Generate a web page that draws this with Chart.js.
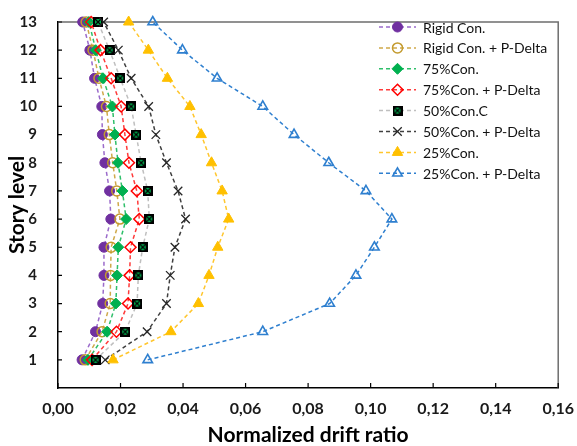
<!DOCTYPE html>
<html><head><meta charset="utf-8">
<script src="https://cdn.jsdelivr.net/npm/chart.js@4/dist/chart.umd.min.js"></script>
<style>html,body{margin:0;padding:0;background:#fff}#wrap{width:577px;height:446px;position:relative}</style>
</head><body><div id="wrap"><canvas id="c" width="577" height="446"></canvas></div>
<script>
// ---- data (story 1 .. 13) ----
const stories = [1,2,3,4,5,6,7,8,9,10,11,12,13];
const seriesNames = ['Rigid Con.','Rigid Con. + P-Delta','75%Con.','75%Con. + P-Delta','50%Con.C','50%Con. + P-Delta','25%Con.','25%Con. + P-Delta'];
const rigidCon      = [0.0077,0.0120,0.0143,0.0147,0.0147,0.0169,0.0165,0.0150,0.0142,0.0140,0.0117,0.0102,0.0079];
const rigidConPD    = [0.0087,0.0141,0.0167,0.0168,0.0170,0.0198,0.0188,0.0175,0.0164,0.0155,0.0131,0.0112,0.0090];
const con75         = [0.0096,0.0157,0.0185,0.0189,0.0193,0.0218,0.0206,0.0192,0.0182,0.0174,0.0144,0.0121,0.0099];
const con75PD       = [0.0109,0.0187,0.0224,0.0229,0.0232,0.0260,0.0252,0.0227,0.0214,0.0202,0.0170,0.0136,0.0106];
const con50C        = [0.0120,0.0215,0.0253,0.0257,0.0271,0.0292,0.0287,0.0266,0.0250,0.0234,0.0199,0.0165,0.0128];
const con50PD       = [0.0151,0.0285,0.0347,0.0359,0.0374,0.0408,0.0384,0.0347,0.0313,0.0290,0.0234,0.0193,0.0146];
const con25         = [0.0176,0.0361,0.0449,0.0483,0.0511,0.0546,0.0525,0.0491,0.0458,0.0422,0.0350,0.0289,0.0226];
const con25PD       = [0.0287,0.0655,0.0869,0.0953,0.1012,0.1068,0.0985,0.0866,0.0755,0.0655,0.0509,0.0398,0.0303];
const xTickLabels = ['0,00','0,02','0,04','0,06','0,08','0,10','0,12','0,14','0,16'];
const storyLabels = ['','1','2','3','4','5','6','7','8','9','10','11','12','13'];

// custom marker for 50%Con.C
function boxMarker(){
  const c=document.createElement('canvas'); c.width=10; c.height=10;
  const g=c.getContext('2d');
  g.fillStyle='#000'; g.fillRect(0,0,10,10);
  g.fillStyle='#00B050'; g.fillRect(2,2,6,6);
  g.strokeStyle='#000'; g.lineWidth=1.3;
  g.beginPath(); g.moveTo(2,2); g.lineTo(8,8); g.moveTo(8,2); g.lineTo(2,8); g.stroke();
  return c;
}
const styles = [
  {line:'#9B6BCB', pc:'#7030A0', bg:'#7030A0', ps:'circle', r:5, bw:1},
  {line:'#CFA94A', pc:'#C39A2E', bg:'rgba(0,0,0,0)', ps:'circle', r:5, bw:1.5},
  {line:'#2FBF6A', pc:'#00B050', bg:'#00B050', ps:'rectRot', r:5.5, bw:1},
  {line:'#FF3B3B', pc:'#FF0000', bg:'rgba(0,0,0,0)', ps:'rectRot', r:5.5, bw:1.5},
  {line:'#BFBFBF', pc:'#000', bg:'#000', ps:boxMarker(), r:5, bw:1},
  {line:'#404040', pc:'#262626', bg:'#262626', ps:'crossRot', r:6, bw:1.3},
  {line:'#FFC62E', pc:'#FFC000', bg:'#FFC000', ps:'triangle', r:6, bw:1},
  {line:'#2E7FCF', pc:'#2E7FCF', bg:'rgba(0,0,0,0)', ps:'triangle', r:5.5, bw:1.6}
];
const allSeries=[rigidCon,rigidConPD,con75,con75PD,con50C,con50PD,con25,con25PD];
const datasets = allSeries.map((vals,i)=>({
  label: seriesNames[i],
  data: vals.map((v,k)=>({x:v,y:stories[k]})),
  showLine:true, borderColor:styles[i].line, borderWidth:1.5, borderDash:[4,3],
  pointStyle:styles[i].ps, pointRadius:styles[i].r, pointBorderColor:styles[i].pc,
  pointBackgroundColor:styles[i].bg, pointBorderWidth:styles[i].bw,
  clip:false, order: 8-i, fill:false, tension:0
}));

const framePlugin = {
  id:'frame',
  beforeDatasetsDraw(chart){
    const {ctx, chartArea:a, scales} = chart;
    ctx.save();
    ctx.strokeStyle='#6e6e6e'; ctx.lineWidth=1.5;
    ctx.beginPath(); ctx.moveTo(a.left,a.top); ctx.lineTo(a.right,a.top); ctx.lineTo(a.right,a.bottom); ctx.stroke();
    ctx.strokeStyle='#000'; ctx.lineWidth=1.2;
    ctx.beginPath();
    scales.y.ticks.forEach(t=>{ if(t.value>0){const y=scales.y.getPixelForValue(t.value); ctx.moveTo(a.left,y); ctx.lineTo(a.left+4,y);} });
    scales.x.ticks.forEach(t=>{ const x=scales.x.getPixelForValue(t.value); ctx.moveTo(x,a.bottom); ctx.lineTo(x,a.bottom-5); });
    ctx.stroke();
    ctx.restore();
  },
  afterDraw(chart){
    const ctx=chart.ctx;
    ctx.save();
    chart.data.datasets.forEach((ds,i)=>{
      const y=27+i*20.9;
      ctx.strokeStyle=ds.borderColor; ctx.lineWidth=1.5; ctx.setLineDash([4,3]);
      ctx.beginPath(); ctx.moveTo(379,y); ctx.lineTo(416,y); ctx.stroke();
      ctx.setLineDash([]);
      ctx.fillStyle=ds.pointBackgroundColor; ctx.strokeStyle=ds.pointBorderColor; ctx.lineWidth=ds.pointBorderWidth;
      Chart.helpers.drawPoint(ctx,{pointStyle:ds.pointStyle, radius:ds.pointRadius, rotation:0, borderWidth:ds.pointBorderWidth},397.5,y);
      ctx.fillStyle='#111'; ctx.font='14px Lato'; ctx.textBaseline='middle'; ctx.textAlign='left';
      ctx.fillText(ds.label,423,y+1);
    });
    ctx.restore();
  }
};

new Chart(document.getElementById('c'),{
  type:'scatter',
  data:{datasets},
  options:{
    responsive:false, animation:false, devicePixelRatio:1,
    layout:{padding:{top:15,right:15,left:0,bottom:0}},
    plugins:{legend:{display:false}, tooltip:{enabled:false}},
    scales:{
      x:{type:'linear', min:0, max:0.16,
        afterFit(s){s.height=58;},
        grid:{display:false}, border:{display:true,color:'#000',width:1.5},
        ticks:{stepSize:0.02, padding:3, color:'#1a1a1a', font:{family:'Lato',size:16,weight:'bold'},
          callback:(v,i)=>xTickLabels[i]},
        title:{display:true,text:'Normalized drift ratio',color:'#000',font:{family:'Lato',size:21,weight:'bold',lineHeight:1},padding:{top:0,bottom:0}}
      },
      y:{type:'linear', min:0, max:13,
        afterFit(s){s.width=58;},
        grid:{display:false}, border:{display:true,color:'#000',width:1.5},
        ticks:{stepSize:1, padding:13, color:'#1a1a1a', font:{family:'Lato',size:15,weight:'bold'},
          callback:(v,i)=>storyLabels[i]},
        title:{display:true,text:'Story level',color:'#000',font:{family:'Lato',size:21,weight:'bold',lineHeight:1},padding:{top:7,bottom:0}}
      }
    }
  },
  plugins:[framePlugin]
});
</script></body></html>
